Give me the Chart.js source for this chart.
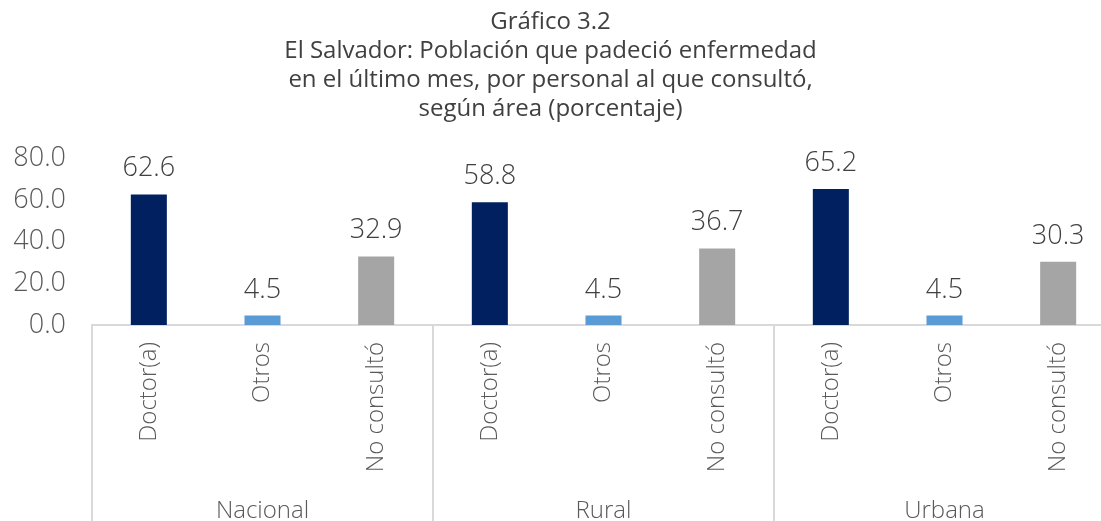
<!DOCTYPE html>
<html>
<head>
<meta charset="utf-8">
<script src="https://cdn.jsdelivr.net/npm/chart.js@4.4.1/dist/chart.umd.min.js"></script>
<style>
  html, body { margin: 0; padding: 0; background: #fff; overflow: hidden; }
  /* el gráfico original queda cortado a la derecha: el lienzo es algo más ancho que la ventana */
  #wrap { width: 1130px; height: 521px; position: relative; }
</style>
</head>
<body>
<div id="wrap"><canvas id="grafico"></canvas></div>
<script>
const areas = ['Nacional', 'Rural', 'Urbana']
const personal = ['Doctor(a)', 'Otros', 'No consultó']
const doctor = [62.6, 58.8, 65.2]
const otros = [4.5, 4.5, 4.5]
const noConsulto = [32.9, 36.7, 30.3]
const yTicks = [0, 20, 40, 60, 80]
const titulo = [
  'Gráfico 3.2',
  'El Salvador: Población que padeció enfermedad',
  'en el último mes, por personal al que consultó,',
  'según área (porcentaje)'
]

const colores = ['#002060', '#5B9BD5', '#A5A5A5']
const fuente = "'Open Sans', sans-serif"

// aplanar: cada área tiene sus tres barras
const labels = []
const valores = []
const fondo = []
areas.forEach((area, i) => {
  [doctor, otros, noConsulto].forEach((serie, j) => {
    labels.push(personal[j])
    valores.push(serie[i])
    fondo.push(colores[j])
  })
})

// valores encima de cada barra
const etiquetas = {
  id: 'etiquetas',
  afterDatasetsDraw (chart) {
    const ctx = chart.ctx
    const meta = chart.getDatasetMeta(0)
    ctx.save()
    ctx.font = '300 27px ' + fuente
    ctx.fillStyle = '#404040'
    ctx.textAlign = 'center'
    ctx.textBaseline = 'alphabetic'
    meta.data.forEach((bar, i) => {
      ctx.fillText(valores[i].toFixed(1), bar.x, bar.y - 18)
    })
    ctx.restore()
  }
}

// líneas verticales entre áreas, debajo del eje
const separadores = {
  id: 'separadores',
  afterDraw (chart) {
    const x = chart.scales.x
    const ctx = chart.ctx
    const ancho = x.getPixelForValue(1) - x.getPixelForValue(0)
    ctx.save()
    ctx.strokeStyle = '#D9D9D9'
    ctx.lineWidth = 2
    for (let k = 0; k <= labels.length; k += personal.length) {
      const px = Math.round(x.getPixelForValue(k) - ancho / 2)
      ctx.beginPath()
      ctx.moveTo(px, chart.chartArea.bottom)
      ctx.lineTo(px, chart.height)
      ctx.stroke()
    }
    ctx.restore()
  }
}

const ctx = document.getElementById('grafico').getContext('2d')
const grafico = new Chart(ctx, {
  type: 'bar',
  data: {
    labels,
    datasets: [{
      data: valores,
      backgroundColor: fondo,
      borderWidth: 0,
      barPercentage: 1,
      categoryPercentage: 0.317
    }]
  },
  options: {
    responsive: true,
    maintainAspectRatio: false,
    animation: false,
    devicePixelRatio: 1,
    layout: {
      padding: { left: -14, right: 15, top: 0, bottom: -9 }
    },
    plugins: {
      legend: { display: false },
      tooltip: { enabled: false },
      title: {
        display: true,
        text: titulo,
        color: '#404040',
        font: { family: fuente, size: 24, weight: 400, lineHeight: 1.21 },
        padding: { top: 8, bottom: 34 }
      }
    },
    scales: {
      y: {
        min: 0,
        max: 80,
        afterBuildTicks: (scale) => {
          scale.ticks = yTicks.map(v => ({ value: v }))
        },
        afterFit: (scale) => { scale.width = 106 },
        grid: { display: false, drawTicks: false },
        border: { display: false },
        ticks: {
          padding: 26,
          color: '#595959',
          font: { family: fuente, size: 27, weight: 300 },
          callback: (v) => Number(v).toFixed(1)
        }
      },
      x: {
        afterFit: (scale) => { scale.height = 160 },
        grid: { display: false, drawTicks: false },
        border: { display: true, color: '#D9D9D9', width: 2 },
        ticks: {
          autoSkip: false,
          minRotation: 90,
          maxRotation: 90,
          padding: 17,
          color: '#595959',
          font: { family: fuente, size: 24, weight: 300 }
        }
      },
      x2: {
        type: 'category',
        labels: areas,
        position: 'bottom',
        weight: 1,
        offset: true,
        afterFit: (scale) => { scale.height = 45 },
        grid: { display: false, drawTicks: false },
        border: { display: false },
        ticks: {
          autoSkip: false,
          maxRotation: 0,
          padding: 12,
          color: '#595959',
          font: { family: fuente, size: 24, weight: 300 }
        }
      }
    }
  },
  plugins: [etiquetas, separadores]
})
</script>
</body>
</html>
